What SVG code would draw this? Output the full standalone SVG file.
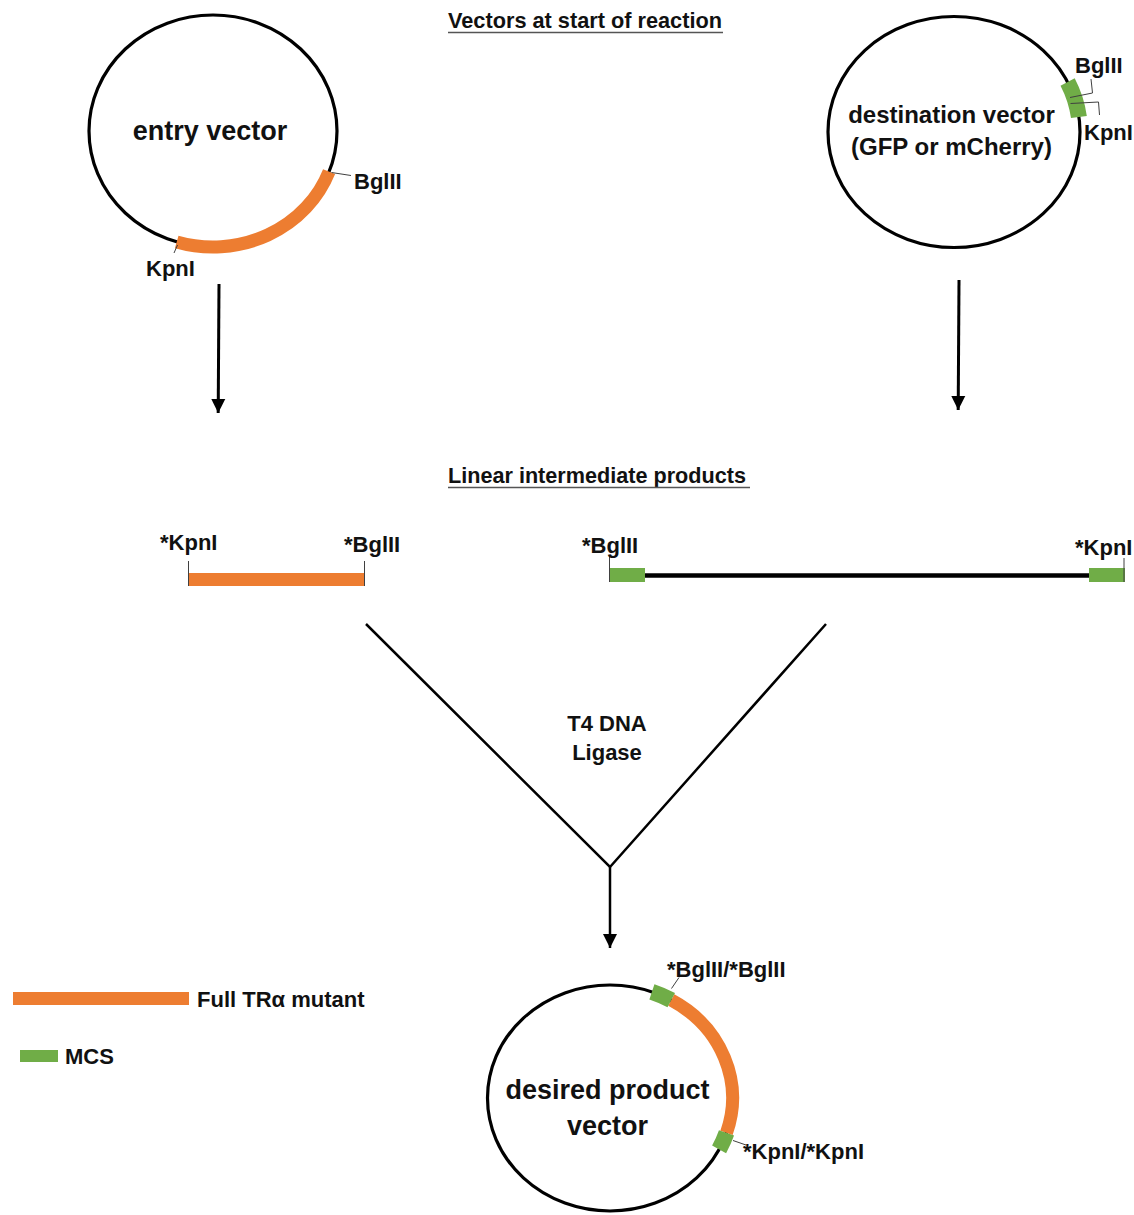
<svg xmlns="http://www.w3.org/2000/svg" width="1134" height="1215" viewBox="0 0 1134 1215">
<style>
text{font-family:"Liberation Sans",Arial,sans-serif;font-weight:bold;fill:#111}
.lbl{font-size:22px}
.big{font-size:27px}
.mid{font-size:24px}
.ring{fill:none;stroke:#000;stroke-width:3.2}
.orange{fill:none;stroke:#ED7D31;stroke-width:13}
.green{fill:none;stroke:#70AD47;stroke-width:16}
.tick{fill:none;stroke:#404040;stroke-width:1}
.conn{fill:none;stroke:#000;stroke-width:2.5}
.ul{stroke:#555;stroke-width:1.3}
</style>
<defs>
<marker id="ah" markerUnits="userSpaceOnUse" markerWidth="16" markerHeight="16" viewBox="0 0 16 16" refX="14" refY="8" orient="auto">
<path d="M0,1 L14,8 L0,15 Z" fill="#000"/>
</marker>
</defs>

<g id="title-start">
<text class="lbl" x="448" y="28" textLength="274" lengthAdjust="spacingAndGlyphs">Vectors at start of reaction</text>
<line class="ul" x1="448" y1="32.5" x2="723" y2="32.5"/>
</g>

<g id="entry-vector">
<ellipse class="ring" cx="213" cy="131" rx="124" ry="116"/>
<path class="orange" d="M329.1 171.6 A124 116 0 0 1 176.7 241.9"/>
<text class="big" x="210" y="140" text-anchor="middle">entry vector</text>
<line class="tick" x1="331.5" y1="172.5" x2="351" y2="175.5"/>
<text class="lbl" x="354" y="189">BglII</text>
<line class="tick" x1="177.5" y1="245" x2="174" y2="253"/>
<text class="lbl" x="146" y="276">KpnI</text>
</g>

<g id="destination-vector">
<ellipse class="ring" cx="954" cy="132" rx="126" ry="115.5"/>
<path class="green" d="M1067.6 82 A126 115.5 0 0 1 1078.9 117"/>
<polyline class="tick" points="1070,97.5 1092.5,93 1091,79"/>
<polyline class="tick" points="1070.5,103.5 1098.5,102 1099.5,115"/>
<text class="lbl" x="1075" y="73">BglII</text>
<text class="lbl" x="1084" y="140">KpnI</text>
<text class="mid" x="951.5" y="123" text-anchor="middle">destination vector</text>
<text class="mid" x="951.5" y="155" text-anchor="middle">(GFP or mCherry)</text>
</g>

<g id="title-linear">
<text class="lbl" x="448" y="483" textLength="298" lengthAdjust="spacingAndGlyphs">Linear intermediate products</text>
<line class="ul" x1="448" y1="487.5" x2="750" y2="487.5"/>
</g>

<g id="insert-fragment">
<rect x="189" y="573" width="176" height="13" fill="#ED7D31"/>
<line class="tick" x1="188.5" y1="561" x2="188.5" y2="586"/>
<line class="tick" x1="364.5" y1="561" x2="364.5" y2="586"/>
<text class="lbl" x="160" y="550">*KpnI</text>
<text class="lbl" x="344" y="552">*BglII</text>
</g>

<g id="vector-backbone">
<line x1="644" y1="575.5" x2="1090" y2="575.5" stroke="#000" stroke-width="4.5"/>
<rect x="609" y="568" width="36" height="14" fill="#70AD47"/>
<rect x="1089" y="568" width="36" height="14" fill="#70AD47"/>
<line class="tick" x1="609.5" y1="557" x2="609.5" y2="582"/>
<line class="tick" x1="1124" y1="558" x2="1124" y2="582"/>
<text class="lbl" x="582" y="553">*BglII</text>
<text class="lbl" x="1075" y="555">*KpnI</text>
</g>

<g id="connectors">
<line class="conn" style="stroke-width:3" x1="219" y1="284" x2="218.2" y2="413" marker-end="url(#ah)"/>
<line class="conn" style="stroke-width:3" x1="959" y1="280" x2="958.2" y2="410" marker-end="url(#ah)"/>
<polyline class="conn" points="366,624 610,867 826,624"/>
<line class="conn" x1="610" y1="867" x2="610" y2="948" marker-end="url(#ah)"/>
</g>

<g id="ligase-label">
<text class="lbl" x="607" y="731" text-anchor="middle">T4 DNA</text>
<text class="lbl" x="607" y="760" text-anchor="middle">Ligase</text>
</g>

<g id="product-vector">
<ellipse class="ring" cx="610" cy="1098" rx="122.5" ry="113"/>
<path class="orange" d="M671.25 1000.1 A122.5 113 0 0 1 726.5 1132.9"/>
<path class="green" d="M651.9 991.8 A122.5 113 0 0 1 671.25 1000.1"/>
<path class="green" d="M726.5 1132.9 A122.5 113 0 0 1 719.1 1149.3"/>
<line class="tick" x1="671.5" y1="988.5" x2="679" y2="977.5"/>
<line class="tick" x1="733" y1="1140.5" x2="746" y2="1145"/>
<text class="lbl" x="667" y="977">*BglII/*BglII</text>
<text class="lbl" x="743" y="1159">*KpnI/*KpnI</text>
<text class="big" x="607.5" y="1099" text-anchor="middle">desired product</text>
<text class="big" x="607.5" y="1135" text-anchor="middle">vector</text>
</g>

<g id="legend">
<rect x="13" y="992" width="176" height="13" fill="#ED7D31"/>
<text class="lbl" x="197" y="1007">Full TRα mutant</text>
<rect x="20" y="1050" width="38" height="12" fill="#70AD47"/>
<text class="lbl" x="65" y="1064">MCS</text>
</g>
</svg>
